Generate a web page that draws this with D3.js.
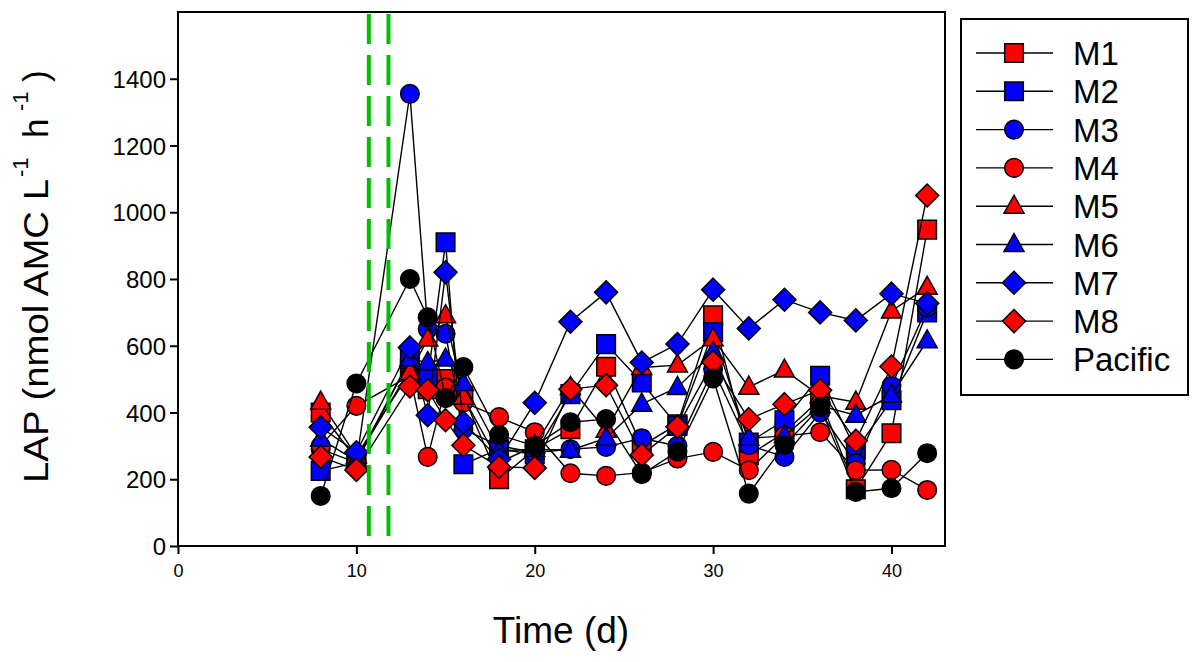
<!DOCTYPE html>
<html>
<head>
<meta charset="utf-8">
<script src="https://cdn.jsdelivr.net/npm/d3@7"></script>
<style>
  body { margin: 0; background: #fff; }
  text { font-family: Arial, "Liberation Sans", sans-serif; fill: #000; }
</style>
</head>
<body>
<script>
/***********************************************************************************/
// Data

var days = [8, 10, 13, 14, 15, 16, 18, 20, 22, 24, 26, 28, 30, 32, 34, 36, 38, 40, 42];

var m1 = [400, 260, 530, 470, 500, 450, 200, 290, 350, 537, 300, 365, 691, 272, 340, 440, 170, 338, 948];
var m2 = [225, 250, 560, 500, 910, 245, 290, 275, 455, 605, 490, 360, 641, 310, 377, 510, 287, 437, 700];
var m3 = [290, 250, 1355, 650, 636, 350, 300, 280, 290, 297, 323, 300, 530, 302, 267, 400, 248, 480, 715];
var m4 = [300, 420, 510, 267, 475, 430, 386, 341, 218, 210, 220, 262, 282, 227, 330, 341, 227, 228, 168];
var m5 = [431, 270, 520, 620, 690, 446, 250, 300, 475, 347, 535, 542, 621, 476, 527, 450, 431, 704, 775];
var m6 = [320, 255, 560, 550, 560, 487, 285, 290, 287, 323, 425, 475, 580, 323, 330, 420, 392, 452, 615];
var m7 = [356, 281, 595, 392, 820, 370, 260, 429, 672, 760, 550, 605, 768, 652, 738, 700, 676, 756, 727];
var m8 = [267, 228, 478, 467, 377, 302, 237, 234, 470, 482, 273, 357, 551, 380, 425, 467, 315, 538, 1050];
var pacific = [150, 487, 800, 685, 443, 536, 333, 300, 371, 380, 215, 283, 502, 157, 302, 416, 162, 173, 278];

var seriesNames = ['M1', 'M2', 'M3', 'M4', 'M5', 'M6', 'M7', 'M8', 'Pacific'];
var seriesValues = [m1, m2, m3, m4, m5, m6, m7, m8, pacific];
var seriesFill = ['#ff0000', '#0000ff', '#0000ff', '#ff0000', '#ff0000', '#0000ff', '#0000ff', '#ff0000', '#000000'];
var seriesShape = ['square', 'square', 'circle', 'circle', 'triangle', 'triangle', 'diamond', 'diamond', 'circle'];

var xTicks = [0, 10, 20, 30, 40];
var yTicks = [0, 200, 400, 600, 800, 1000, 1200, 1400];
var treatmentDays = [10.7, 11.8];

/***********************************************************************************/
// Setup

var W = 1200, H = 662;
var plot = { left: 178, right: 945, top: 12, bottom: 546 };

var svg = d3.select('body').append('svg').attr('width', W).attr('height', H);

var x = d3.scaleLinear().domain([0, 43]).range([plot.left, plot.right]);
var y = d3.scaleLinear().domain([0, 1600]).range([plot.bottom, plot.top]);

function shapePath(shape){
  if(shape == 'square'){ return 'M-9.3,-9.3H9.3V9.3H-9.3Z'; }
  if(shape == 'triangle'){ return 'M0,-11L10,7H-10Z'; }
  if(shape == 'diamond'){ return 'M0,-11.5L11.5,0L0,11.5L-11.5,0Z'; }
  return 'M9.3,0A9.3,9.3 0 1,1 -9.3,0A9.3,9.3 0 1,1 9.3,0Z';
}

/***********************************************************************************/
// Axes

var yAxis = d3.axisLeft(y).tickValues(yTicks).tickFormat(d3.format('d')).tickSize(8).tickPadding(4);
var gy = svg.append('g').attr('transform', 'translate(' + plot.left + ',0)').call(yAxis);
gy.select('.domain').remove();
gy.selectAll('line').attr('stroke', '#000').attr('stroke-width', 2);
gy.selectAll('text').style('font-size', '24px').attr('dy', '0.36em');

var xAxis = d3.axisBottom(x).tickValues(xTicks).tickSize(8).tickPadding(10);
var gx = svg.append('g').attr('transform', 'translate(0,' + plot.bottom + ')').call(xAxis);
gx.select('.domain').remove();
gx.selectAll('line').attr('stroke', '#000').attr('stroke-width', 2);
gx.selectAll('text').style('font-size', '18px');

svg.append('rect')
  .attr('x', plot.left).attr('y', plot.top)
  .attr('width', plot.right - plot.left).attr('height', plot.bottom - plot.top)
  .attr('fill', 'none').attr('stroke', '#000').attr('stroke-width', 2);

// axis titles
svg.append('text')
  .attr('x', 561).attr('y', 643)
  .attr('text-anchor', 'middle')
  .style('font-size', '37px')
  .text('Time (d)');

// y title, pieces placed along the rotated baseline
var yt = svg.append('g').attr('transform', 'translate(48,483) rotate(-90)');
yt.append('text').attr('x', 0).attr('y', 0)
  .attr('textLength', 304).attr('lengthAdjust', 'spacingAndGlyphs')
  .style('font-size', '35px').text('LAP (nmol AMC L');
yt.append('text').attr('x', 306).attr('y', -20).style('font-size', '22px').text('-1');
yt.append('text').attr('x', 345).attr('y', 0).style('font-size', '35px').text('h');
yt.append('text').attr('x', 372).attr('y', -20).style('font-size', '22px').text('-1');
yt.append('text').attr('x', 401).attr('y', 0).style('font-size', '35px').text(')');

/***********************************************************************************/
// Series

var line = d3.line().x(function(d){ return x(d[0]); }).y(function(d){ return y(d[1]); });

seriesValues.forEach(function(vals, i){
  var pts = days.map(function(d, j){ return [d, vals[j]]; });
  var g = svg.append('g');
  g.append('path').datum(pts)
    .attr('d', line).attr('fill', 'none')
    .attr('stroke', '#000').attr('stroke-width', 1.4);
  g.selectAll('path.mk').data(pts).enter().append('path')
    .attr('class', 'mk')
    .attr('d', shapePath(seriesShape[i]))
    .attr('transform', function(d){ return 'translate(' + x(d[0]) + ',' + y(d[1]) + ')'; })
    .attr('fill', seriesFill[i])
    .attr('stroke', '#000').attr('stroke-width', 1.5);
});

// treatment lines
svg.selectAll('line.treat').data(treatmentDays).enter().append('line')
  .attr('class', 'treat')
  .attr('x1', function(d){ return x(d); }).attr('x2', function(d){ return x(d); })
  .attr('y1', plot.top + 2).attr('y2', plot.bottom)
  .attr('stroke', '#00c000').attr('stroke-width', 4)
  .attr('stroke-dasharray', '30,11');

/***********************************************************************************/
// Legend

var legend = svg.append('g');
legend.append('rect')
  .attr('x', 961).attr('y', 19).attr('width', 227).attr('height', 376)
  .attr('fill', '#fff').attr('stroke', '#000').attr('stroke-width', 2);

seriesNames.forEach(function(name, i){
  var cy = 53 + i * 38.3;
  var row = legend.append('g').attr('transform', 'translate(0,' + cy + ')');
  row.append('line').attr('x1', 976).attr('x2', 1053).attr('y1', 0).attr('y2', 0)
    .attr('stroke', '#000').attr('stroke-width', 1.4);
  row.append('path').attr('d', shapePath(seriesShape[i]))
    .attr('transform', 'translate(1014,0)')
    .attr('fill', seriesFill[i]).attr('stroke', '#000').attr('stroke-width', 1.5);
  row.append('text').attr('x', 1073).attr('y', 12)
    .style('font-size', '33px').text(name);
});
</script>
</body>
</html>
